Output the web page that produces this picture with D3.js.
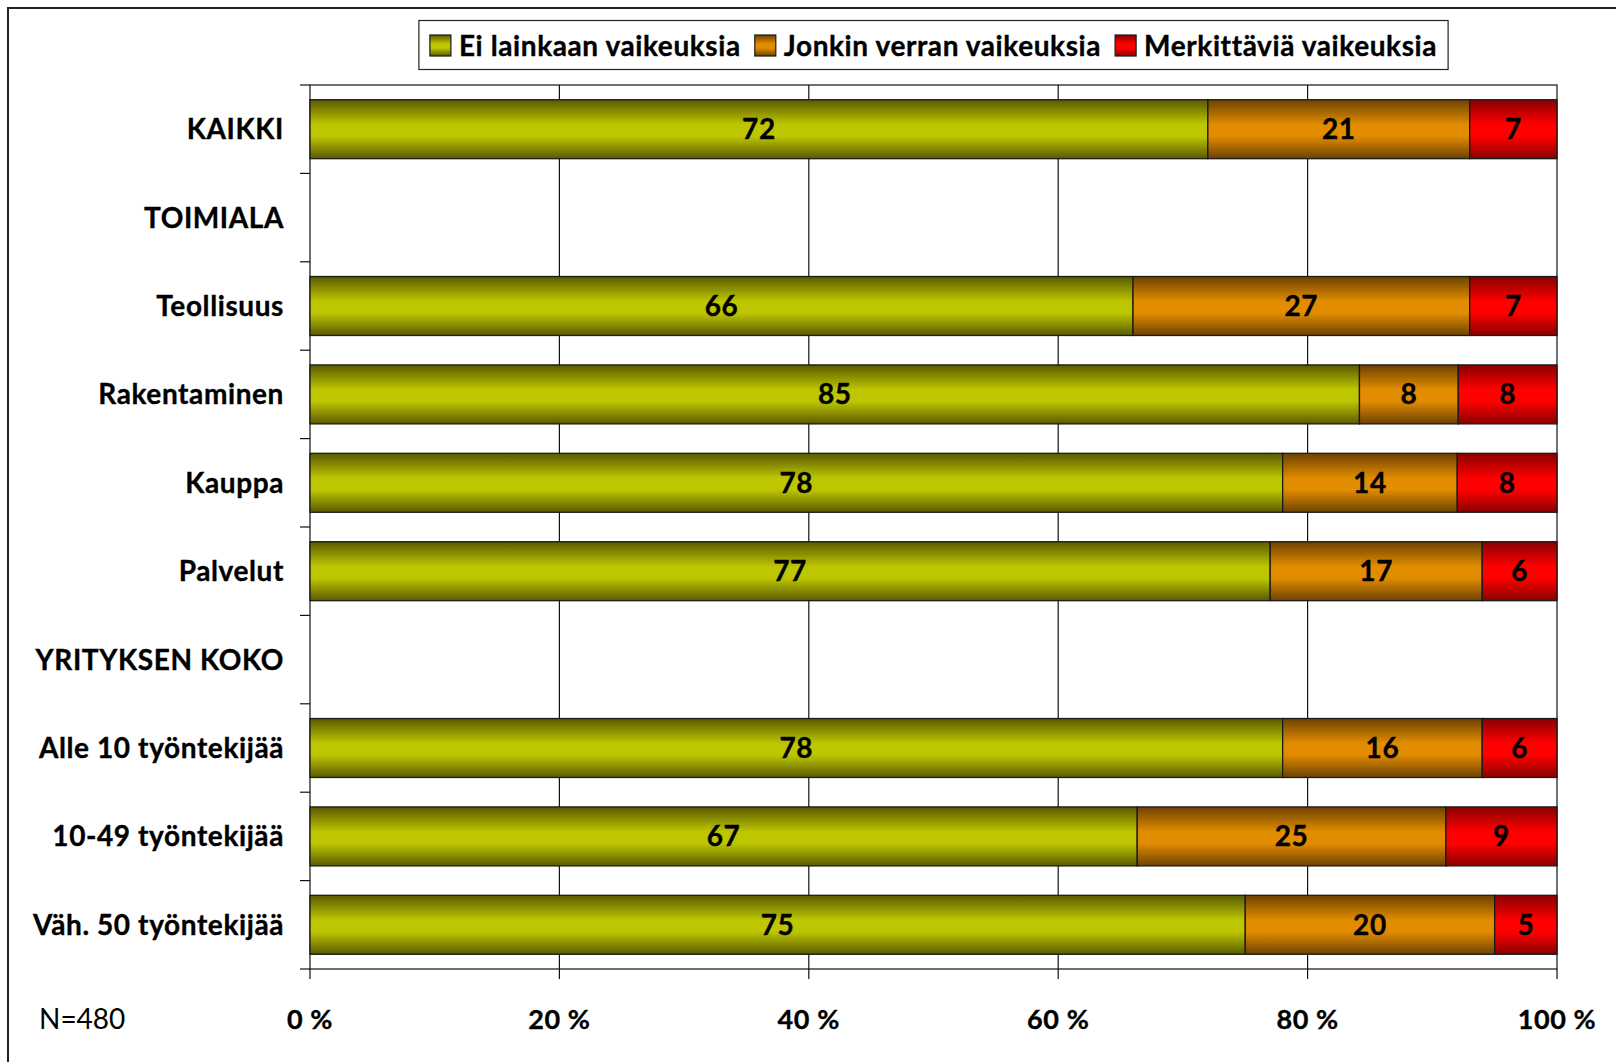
<!DOCTYPE html>
<html>
<head>
<meta charset="utf-8">
<script src="https://cdn.jsdelivr.net/npm/d3@7"></script>
<style>
  body { margin: 0; background: #fff; }
  svg { display: block; font-family: Lato, 'Noto Sans', sans-serif; }
  .bold { font-weight: bold; stroke: #000; stroke-width: 0.35px; letter-spacing: 0.6px; }
</style>
</head>
<body>
<svg></svg>
<script>
'use strict';

const svgWidth = 1616;
const svgHeight = 1062;

const margin = { top: 85, right: 59, bottom: 93, left: 310 };
const width = svgWidth - margin.left - margin.right;
const height = svgHeight - margin.top - margin.bottom;

// data
const categories = ['KAIKKI', 'TOIMIALA', 'Teollisuus', 'Rakentaminen', 'Kauppa',
  'Palvelut', 'YRITYKSEN KOKO', 'Alle 10 työntekijää', '10-49 työntekijää',
  'Väh. 50 työntekijää'];
const seriesNames = ['Ei lainkaan vaikeuksia', 'Jonkin verran vaikeuksia', 'Merkittäviä vaikeuksia'];
const noDifficulty = [72, null, 66, 85, 78, 77, null, 78, 67, 75];
const someDifficulty = [21, null, 27, 8, 14, 17, null, 16, 25, 20];
const majorDifficulty = [7, null, 7, 8, 8, 6, null, 6, 9, 5];
const xTicks = [0, 20, 40, 60, 80, 100];
const sampleNote = 'N=480';

const colors = [
  { dark: '#5a5a00', light: '#bdc600' },
  { dark: '#6c4200', light: '#e28c00' },
  { dark: '#880000', light: '#ff0000' }
];

const svg = d3.select('svg')
  .attr('width', svgWidth)
  .attr('height', svgHeight);

// gradients
const defs = svg.append('defs');
colors.forEach((c, i) => {
  const g = defs.append('linearGradient')
    .attr('id', `grad${i}`)
    .attr('x1', 0).attr('y1', 0).attr('x2', 0).attr('y2', 1);
  g.append('stop').attr('offset', '0%').attr('stop-color', c.dark);
  g.append('stop').attr('offset', '42%').attr('stop-color', c.light);
  g.append('stop').attr('offset', '62%').attr('stop-color', c.light);
  g.append('stop').attr('offset', '100%').attr('stop-color', c.dark);
});

// outer frame
svg.append('rect')
  .attr('x', 8)
  .attr('y', 8)
  .attr('width', svgWidth + 20)
  .attr('height', svgHeight + 20)
  .attr('fill', 'none')
  .attr('stroke', '#222')
  .attr('stroke-width', 2);

const svgG = svg.append('g')
  .attr('transform', `translate(${margin.left}, ${margin.top})`);

// rows: normalised to 100 %
const rows = categories.map((cat, i) => {
  const vals = [noDifficulty[i], someDifficulty[i], majorDifficulty[i]];
  const total = d3.sum(vals);
  let acc = 0;
  const segs = vals[0] === null ? [] : vals.map((v, k) => {
    const s = { key: k, val: v, x0: acc, x1: acc + 100 * v / total };
    acc = s.x1;
    return s;
  });
  return { cat, segs };
});

const x = d3.scaleLinear()
  .domain([0, 100])
  .range([0, width]);

const y = d3.scaleBand()
  .domain(categories)
  .range([0, height])
  .paddingInner(0.333)
  .paddingOuter(0.1665);

// plot frame and grid
svgG.append('rect')
  .attr('width', width)
  .attr('height', height)
  .attr('fill', 'none')
  .attr('stroke', '#111')
  .attr('stroke-width', 1.2);

svgG.selectAll('.grid')
  .data(xTicks.slice(1, -1))
  .join('line')
  .attr('x1', d => x(d))
  .attr('x2', d => x(d))
  .attr('y1', 0)
  .attr('y2', height)
  .attr('stroke', '#111')
  .attr('stroke-width', 1.2);

// category ticks on the left
const step = y.step();
svgG.selectAll('.ytick')
  .data(d3.range(categories.length + 1))
  .join('line')
  .attr('x1', -10)
  .attr('x2', 0)
  .attr('y1', i => i * step)
  .attr('y2', i => i * step)
  .attr('stroke', '#111')
  .attr('stroke-width', 1.2);

// x ticks
svgG.selectAll('.xtick')
  .data(xTicks)
  .join('line')
  .attr('x1', d => x(d))
  .attr('x2', d => x(d))
  .attr('y1', height)
  .attr('y2', height + 10)
  .attr('stroke', '#111')
  .attr('stroke-width', 1.2);

svgG.selectAll('.xlabel')
  .data(xTicks)
  .join('text')
  .attr('class', 'bold')
  .attr('x', d => x(d))
  .attr('y', height + 60)
  .attr('text-anchor', 'middle')
  .attr('font-size', 27)
  .text(d => `${d} %`);

// category labels
svgG.selectAll('.ylabel')
  .data(categories)
  .join('text')
  .attr('class', 'bold')
  .attr('x', -26)
  .attr('y', d => y(d) + y.bandwidth() / 2 + 10)
  .attr('text-anchor', 'end')
  .attr('font-size', 28)
  .text(d => d);

// bars
const rowG = svgG.selectAll('.row')
  .data(rows)
  .join('g')
  .attr('transform', d => `translate(0, ${y(d.cat)})`);

rowG.selectAll('rect')
  .data(d => d.segs)
  .join('rect')
  .attr('x', d => x(d.x0))
  .attr('width', d => x(d.x1) - x(d.x0))
  .attr('height', y.bandwidth())
  .attr('fill', d => `url(#grad${d.key})`)
  .attr('stroke', '#1a1a1a')
  .attr('stroke-width', 1.3);

rowG.selectAll('text')
  .data(d => d.segs)
  .join('text')
  .attr('class', 'bold')
  .attr('x', d => x((d.x0 + d.x1) / 2))
  .attr('y', y.bandwidth() / 2 + 10)
  .attr('text-anchor', 'middle')
  .attr('font-size', 28)
  .text(d => d.val);

// N note
svg.append('text')
  .attr('x', 39)
  .attr('y', margin.top + height + 60)
  .attr('font-size', 28)
  .text(sampleNote);

// legend
const legend = svg.append('g');
const legBox = legend.append('rect')
  .attr('fill', '#fff')
  .attr('stroke', '#222')
  .attr('stroke-width', 1.2);

let lx = 0;
seriesNames.forEach((name, i) => {
  const item = legend.append('g').attr('transform', `translate(${lx}, 0)`);
  item.append('rect')
    .attr('x', 0)
    .attr('y', -10)
    .attr('width', 21)
    .attr('height', 21)
    .attr('fill', `url(#grad${i})`)
    .attr('stroke', '#1a1a1a')
    .attr('stroke-width', 1.2);
  const t = item.append('text')
    .attr('class', 'bold')
    .attr('x', 29)
    .attr('y', 11)
    .attr('font-size', 28)
    .text(name);
  lx += 29 + t.node().getComputedTextLength() + 14;
});
lx -= 14;

const legPad = 11;
const legCx = margin.left + width / 2;
legend.attr('transform', `translate(${legCx - lx / 2}, 45)`);
legBox
  .attr('x', -legPad)
  .attr('y', -24.5)
  .attr('width', lx + 2 * legPad)
  .attr('height', 49);
</script>
</body>
</html>
